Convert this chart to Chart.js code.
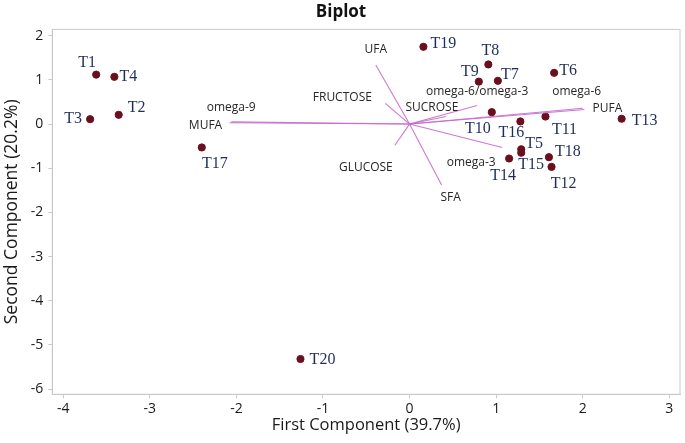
<!DOCTYPE html>
<html>
<head>
<meta charset="utf-8">
<script src="https://cdn.jsdelivr.net/npm/chart.js@4"></script>
<style>
  html, body { margin: 0; padding: 0; background: #fff; }
  #wrap { width: 685px; height: 443px; }
</style>
</head>
<body>
<div id="wrap"><canvas id="biplot"></canvas></div>
<script>
// scores (treatments)
var pointNames = ['T1','T2','T3','T4','T5','T6','T7','T8','T9','T10',
                  'T11','T12','T13','T14','T15','T16','T17','T18','T19','T20'];
var pc1 = [-3.62, -3.36, -3.69, -3.41, 1.29, 1.67, 1.02, 0.91, 0.80, 0.95,
            1.57, 1.64, 2.45, 1.15, 1.29, 1.28, -2.40, 1.61, 0.16, -1.26];
var pc2 = [1.12, 0.21, 0.11, 1.07, -0.57, 1.16, 0.98, 1.35, 0.96, 0.27,
           0.17, -0.97, 0.12, -0.78, -0.65, 0.06, -0.53, -0.75, 1.75, -5.32];

// loadings (variables)
var varNames = ['MUFA','omega-9','UFA','SFA','FRUCTOSE','GLUCOSE',
                'SUCROSE','omega-6/omega-3','PUFA','omega-6','omega-3'];
var loadX = [-2.08, -2.06, -0.39, 0.37, -0.28, -0.17, 0.42, 0.78, 2.02, 2.00, 1.07];
var loadY = [0.03, 0.05, 1.34, -1.38, 0.47, -0.48, 0.17, 0.42, 0.33, 0.36, -0.53];

var xTicks = [-4, -3, -2, -1, 0, 1, 2, 3];
var yTicks = [-6, -5, -4, -3, -2, -1, 0, 1, 2];

// label placement (pixel offsets from the mark)
var pointLabelOffset = {
  T1: [-9, -12], T2: [18, -7], T3: [-17, 0], T4: [14, 0], T5: [13, -5],
  T6: [14, -2], T7: [12, -6], T8: [2, -14], T9: [-9, -10], T10: [-14, 17],
  T11: [19, 13], T12: [12, 17], T13: [23, 2], T14: [-6, 17], T15: [10, 12],
  T16: [-9, 11], T17: [13, 16], T18: [19, -5], T19: [20, -3], T20: [22, 1]
};
var varLabelOffset = {
  'MUFA': [-24, 3], 'omega-9': [0, -14], 'UFA': [0, -15], 'SFA': [9, 13],
  'FRUCTOSE': [-43, -6], 'GLUCOSE': [-29, 22], 'SUCROSE': [-14, -9],
  'omega-6/omega-3': [0, -14], 'PUFA': [23, -1], 'omega-6': [-6, -17],
  'omega-3': [-31, 15]
};

var datasets = [];
for (var i = 0; i < varNames.length; i++) {
  datasets.push({
    label: varNames[i],
    data: [{x: 0, y: 0}, {x: loadX[i], y: loadY[i]}],
    showLine: true,
    borderColor: 'rgba(200, 105, 205, 0.9)',
    borderWidth: 1.1,
    pointRadius: 0,
    pointHoverRadius: 0
  });
}
datasets.push({
  label: 'scores',
  data: pc1.map(function (v, k) { return {x: v, y: pc2[k]}; }),
  backgroundColor: '#6b0f1e',
  borderColor: '#6b0f1e',
  pointRadius: 3.6,
  showLine: false
});

var labelPlugin = {
  id: 'biplotLabels',
  afterDatasetsDraw: function (chart) {
    var ctx = chart.ctx, xs = chart.scales.x, ys = chart.scales.y;
    var a = chart.chartArea;
    ctx.save();
    // frame
    ctx.strokeStyle = '#c9c9c9';
    ctx.lineWidth = 1;
    ctx.strokeRect(a.left, a.top, a.right - a.left, a.bottom - a.top);
    ctx.textAlign = 'center';
    ctx.textBaseline = 'middle';
    // variable labels
    ctx.font = '12px "Open Sans"';
    ctx.fillStyle = '#262626';
    for (var i = 0; i < varNames.length; i++) {
      var o = varLabelOffset[varNames[i]];
      ctx.fillText(varNames[i], xs.getPixelForValue(loadX[i]) + o[0], ys.getPixelForValue(loadY[i]) + o[1]);
    }
    // treatment labels
    ctx.font = '16px "Liberation Serif"';
    ctx.fillStyle = '#1e2d5c';
    for (var k = 0; k < pointNames.length; k++) {
      var p = pointLabelOffset[pointNames[k]];
      ctx.fillText(pointNames[k], xs.getPixelForValue(pc1[k]) + p[0], ys.getPixelForValue(pc2[k]) + p[1]);
    }
    ctx.restore();
  }
};

var ctx = document.getElementById('biplot').getContext('2d');
var biplot = new Chart(ctx, {
  type: 'scatter',
  data: { datasets: datasets },
  plugins: [labelPlugin],
  options: {
    responsive: true,
    maintainAspectRatio: false,
    animation: false,
    layout: { padding: { left: 0, right: 3, top: 0, bottom: 0 } },
    plugins: {
      legend: { display: false },
      tooltip: { enabled: false },
      title: {
        display: true,
        text: 'Biplot',
        color: '#111',
        font: { family: 'Open Sans', size: 17, weight: 'bold' },
        padding: { top: 2, bottom: 7 }
      }
    },
    scales: {
      x: {
        type: 'linear',
        min: -4.127,
        max: 3.124,
        afterFit: function (s) { s.height = 48.7; },
        afterBuildTicks: function (s) { s.ticks = xTicks.map(function (v) { return {value: v}; }); },
        border: { color: '#c9c9c9' },
        grid: { drawOnChartArea: false, drawTicks: true, tickLength: 4, color: '#c9c9c9' },
        ticks: { color: '#1a1a1a', padding: 2, font: { family: 'Open Sans', size: 14 } },
        title: {
          display: true,
          text: 'First Component (39.7%)',
          color: '#1a1a1a',
          font: { family: 'Open Sans', size: 16.5 },
          padding: { top: 0, bottom: 8 }
        }
      },
      y: {
        type: 'linear',
        min: -6.12,
        max: 2.144,
        afterFit: function (s) { s.width = 52.3; },
        afterBuildTicks: function (s) { s.ticks = yTicks.map(function (v) { return {value: v}; }); },
        border: { color: '#c9c9c9' },
        grid: { drawOnChartArea: false, drawTicks: true, tickLength: 4, color: '#c9c9c9' },
        ticks: { color: '#1a1a1a', padding: 5, font: { family: 'Open Sans', size: 14 } },
        title: {
          display: true,
          text: 'Second Component (20.2%)',
          color: '#1a1a1a',
          font: { family: 'Open Sans', size: 17.5 },
          padding: { top: 2, bottom: 0 }
        }
      }
    }
  }
});
</script>
</body>
</html>
